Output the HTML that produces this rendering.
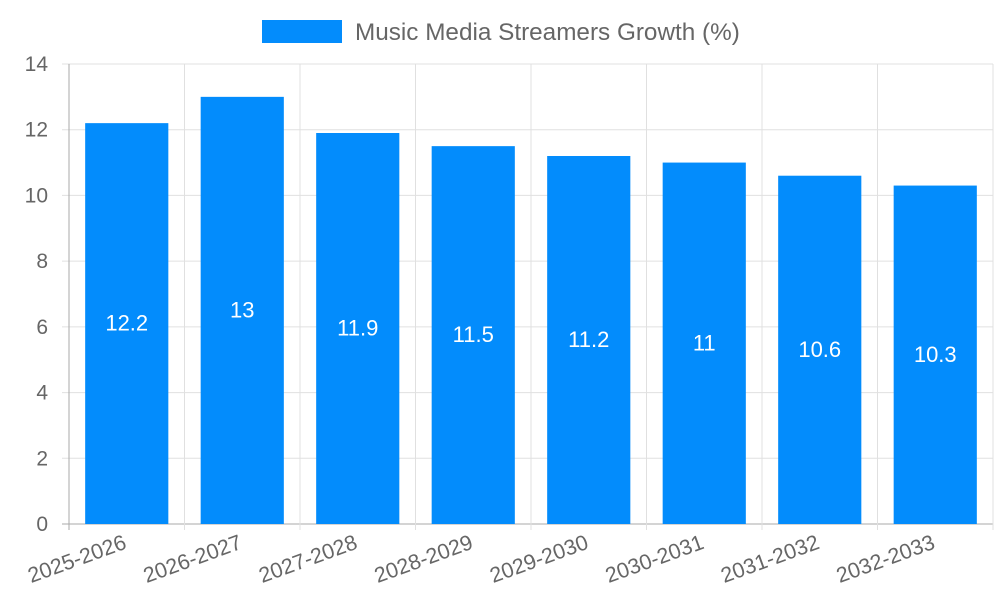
<!DOCTYPE html>
<html><head><meta charset="utf-8"><style>
body{margin:0;background:#fff;}
svg text{font-family:"Liberation Sans",sans-serif;}
</style></head><body>
<svg id="c" width="1000" height="600" xmlns="http://www.w3.org/2000/svg">
<rect x="262" y="20" width="80" height="23" fill="#038cfc"/>
<text x="355" y="40" font-size="24.3" fill="#666">Music Media Streamers Growth (%)</text>
</svg>
<script>
const categories=["2025-2026","2026-2027","2027-2028","2028-2029","2029-2030","2030-2031","2031-2032","2032-2033"];
const values=[12.2,13,11.9,11.5,11.2,11,10.6,10.3];
const yTicks=[0,2,4,6,8,10,12,14];
const svg=document.getElementById('c');const NS="http://www.w3.org/2000/svg";
const L=69,R=993,T=64,B=524,yMax=14;
const y=v=>B-(v/yMax)*(B-T);
const bw=(R-L)/categories.length;
const x=i=>L+i*bw;
function mk(t,a,p){const e=document.createElementNS(NS,t);for(const k in a)e.setAttribute(k,a[k]);(p||svg).appendChild(e);return e;}
yTicks.forEach(v=>{
 const g=mk('line',{x1:62,x2:R,y1:y(v),y2:y(v),stroke:v===0?'#aaa':'#e0e0e0','stroke-width':1});
 
 
 const t=mk('text',{x:48,y:y(v)+7,'font-size':21,fill:'#666','text-anchor':'end'});t.textContent=v;
 
 
});
for(let i=0;i<=categories.length;i++){
 const g=mk('line',{x1:x(i),x2:x(i),y1:T,y2:B+6,stroke:i===0?'#aaa':'#e0e0e0','stroke-width':1});
 
 
}
categories.forEach((c,i)=>{
 const cx=x(i)+bw/2,w=bw*0.72;
 const r=mk('rect',{x:cx-w/2,y:y(values[i]),width:w,height:B-y(values[i]),fill:'#038cfc'});
 
 
 const t=mk('text',{x:cx,y:(y(values[i])+B)/2+7,'font-size':22,fill:'#fff','text-anchor':'middle'});t.textContent=values[i];
 
 
 const l=mk('text',{x:cx+1,y:548,'font-size':21.5,fill:'#666','text-anchor':'end',transform:`rotate(-20 ${cx+1} 548)`});l.textContent=c;
 
 
});
</script>
</body></html>
